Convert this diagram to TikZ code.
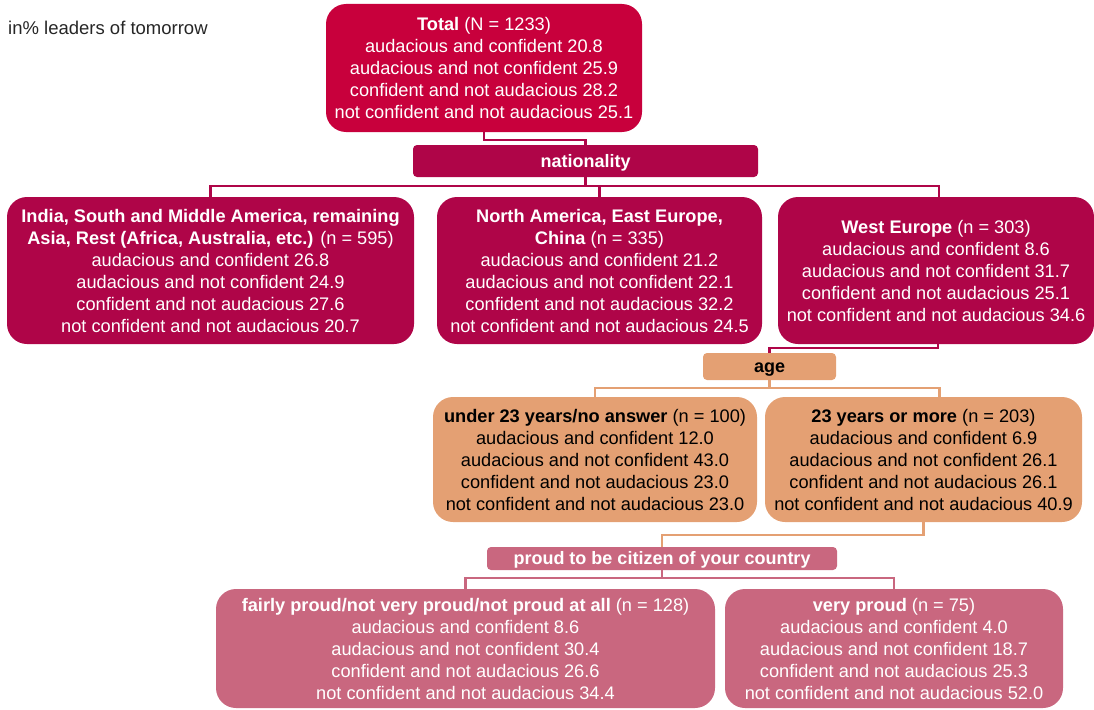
\documentclass[tikz,border=0pt]{standalone}
\usepackage{fontspec}
\setmainfont{Liberation Sans}
\definecolor{totc}{RGB}{200,0,60}
\definecolor{natc}{RGB}{175,5,72}
\definecolor{agec}{RGB}{228,160,115}
\definecolor{proc}{RGB}{201,103,127}
\tikzset{
  box/.style={rounded corners=20pt, inner sep=0pt, align=center, font=\fontsize{18.2}{22}\selectfont},
  hdr/.style={rounded corners=4pt, inner sep=0pt, text height=14pt, text depth=2pt, font=\fontsize{18}{22}\selectfont\bfseries},
  conn/.style={line width=2.2pt},
}
\begin{document}
\begin{tikzpicture}[x=1pt,y=-1pt]
\useasboundingbox (0,0) rectangle (1094,709);
\node[anchor=west, inner sep=0pt, font=\fontsize{18.5}{20}\selectfont, text=black!85] (title) at (8,28) {in\% leaders of tomorrow};

\node[box, fill=totc, text=white, minimum width=316pt, minimum height=128pt] (total) at (484,68)
 {\textbf{Total} (N = 1233)\\audacious and confident 20.8\\audacious and not confident 25.9\\confident and not audacious 28.2\\not confident and not audacious 25.1};

\node[hdr, fill=natc, text=white, minimum width=345pt, minimum height=32pt] (nat) at (585.5,161) {nationality};

\node[box, fill=natc, text=white, minimum width=407pt, minimum height=147pt] (india) at (210.5,270.5)
 {\textbf{India, South and Middle America, remaining}\\\textbf{Asia, Rest (Africa, Australia, etc.)} (n = 595)\\audacious and confident 26.8\\audacious and not confident 24.9\\confident and not audacious 27.6\\not confident and not audacious 20.7};

\node[box, fill=natc, text=white, minimum width=325pt, minimum height=147pt] (na) at (599.5,270.5)
 {\textbf{North America, East Europe,}\\\textbf{China} (n = 335)\\audacious and confident 21.2\\audacious and not confident 22.1\\confident and not audacious 32.2\\not confident and not audacious 24.5};

\node[box, fill=natc, text=white, minimum width=316pt, minimum height=147pt] (we) at (936,270.5)
 {\textbf{West Europe} (n = 303)\\audacious and confident 8.6\\audacious and not confident 31.7\\confident and not audacious 25.1\\not confident and not audacious 34.6};

\node[hdr, fill=agec, text=black, minimum width=133pt, minimum height=27pt] (age) at (769.5,366.5) {age};

\node[box, fill=agec, text=black, minimum width=324pt, minimum height=125pt] (u23) at (595,459.5)
 {\textbf{under 23 years/no answer} (n = 100)\\audacious and confident 12.0\\audacious and not confident 43.0\\confident and not audacious 23.0\\not confident and not audacious 23.0};

\node[box, fill=agec, text=black, minimum width=317pt, minimum height=125pt] (o23) at (923.5,459.5)
 {\textbf{23 years or more} (n = 203)\\audacious and confident 6.9\\audacious and not confident 26.1\\confident and not audacious 26.1\\not confident and not audacious 40.9};

\node[hdr, fill=proc, text=white, minimum width=350pt, minimum height=23pt, text height=13pt, text depth=1pt] (proud) at (662,558.5) {proud to be citizen of your country};

\node[box, fill=proc, text=white, minimum width=499pt, minimum height=119pt] (fp) at (465.5,648.5)
 {\textbf{fairly proud/not very proud/not proud at all} (n = 128)\\audacious and confident 8.6\\audacious and not confident 30.4\\confident and not audacious 26.6\\not confident and not audacious 34.4};

\node[box, fill=proc, text=white, minimum width=338pt, minimum height=119pt] (vp) at (894,648.5)
 {\textbf{very proud} (n = 75)\\audacious and confident 4.0\\audacious and not confident 18.7\\confident and not audacious 25.3\\not confident and not audacious 52.0};

% connectors
\draw[conn, natc] (total.south) -- ++(0,8) -| (nat.north);
\draw[conn, natc] (nat.south) -- ++(0,9) coordinate (nb);
\draw[conn, natc] (india.north) |- (nb) -| ([xshift=3pt]we.north);
\draw[conn, natc] (na.north) -- (na.north |- nb);
\draw[conn, natc] ([xshift=2pt]we.south) -- ++(0,4) -| (age.north);
\draw[conn, agec] (age.south) -- ++(0,8) coordinate (ab);
\draw[conn, agec] (u23.north) |- (ab) -| ([xshift=16pt]o23.north);
\draw[conn, agec] (o23.south) -- ++(0,13) -| (proud.north);
\draw[conn, proc] (proud.south) -- ++(0,8) coordinate (pb);
\draw[conn, proc] (fp.north) |- (pb) -| (vp.north);
\end{tikzpicture}
\end{document}
